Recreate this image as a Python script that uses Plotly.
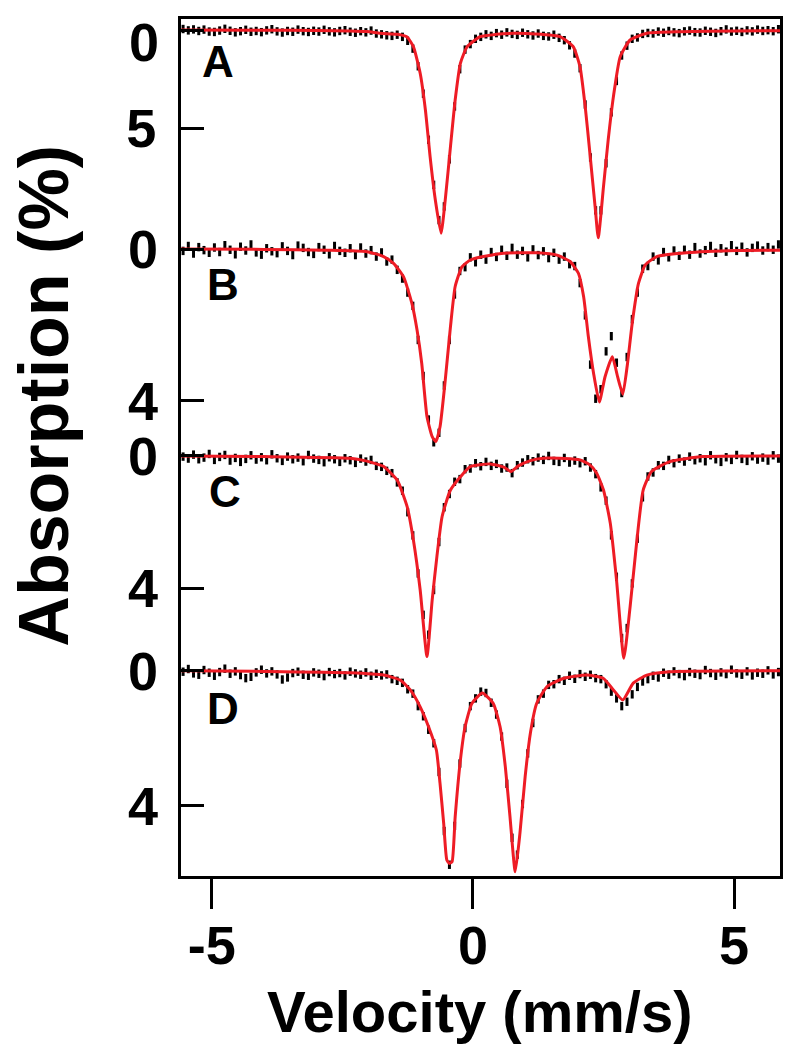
import plotly.graph_objects as go

# Channel velocities (mm/s)
velocity = [-5.55, -5.45, -5.35, -5.25, -5.15, -5.05, -4.95, -4.85, -4.75, -4.65,
            -4.55, -4.45, -4.35, -4.25, -4.15, -4.05, -3.95, -3.85, -3.75, -3.65,
            -3.55, -3.45, -3.35, -3.25, -3.15, -3.05, -2.95, -2.85, -2.75, -2.65,
            -2.55, -2.45, -2.35, -2.25, -2.15, -2.05, -1.95, -1.85, -1.75, -1.65,
            -1.55, -1.45, -1.35, -1.25, -1.15, -1.05, -0.95, -0.85, -0.75, -0.65,
            -0.55, -0.45, -0.35, -0.25, -0.15, -0.05, 0.05, 0.15, 0.25, 0.35,
            0.45, 0.55, 0.65, 0.75, 0.85, 0.95, 1.05, 1.15, 1.25, 1.35,
            1.45, 1.55, 1.65, 1.75, 1.85, 1.95, 2.05, 2.15, 2.25, 2.35,
            2.45, 2.55, 2.65, 2.75, 2.85, 2.95, 3.05, 3.15, 3.25, 3.35,
            3.45, 3.55, 3.65, 3.75, 3.85, 3.95, 4.05, 4.15, 4.25, 4.35,
            4.45, 4.55, 4.65, 4.75, 4.85, 4.95, 5.05, 5.15, 5.25, 5.35,
            5.45, 5.55, 5.65, 5.75, 5.85]

# Measured absorption (%) per spectrum
data_A = [-0.05, 0.02, -0.03, 0.05, -0.02, 0.08, 0.10, 0.03, -0.06, 0.04,
          0.12, 0.06, -0.01, 0.09, 0.05, 0.11, 0.02, -0.04, 0.07, 0.13,
          0.05, 0.09, -0.02, 0.06, 0.10, 0.04, 0.08, -0.01, 0.07, 0.12,
          0.05, 0.01, 0.09, 0.14, 0.06, 0.12, 0.03, 0.18, 0.22, 0.27,
          0.30, 0.24, 0.35, 0.55, 0.95, 1.85, 3.25, 5.6, 7.9, 9.7,
          9.0, 6.6, 3.9, 2.0, 1.0, 0.72, 0.45, 0.35, 0.22, 0.30,
          0.16, 0.24, 0.12, 0.20, 0.25, 0.14, 0.22, 0.28, 0.18, 0.30,
          0.33, 0.24, 0.40, 0.52, 0.78, 1.2, 1.95, 3.8, 6.5, 9.2,
          9.2, 6.8, 4.2, 2.6, 1.3, 0.80, 0.45, 0.38, 0.20, 0.15,
          0.18, 0.08, 0.14, 0.05, 0.12, 0.16, 0.07, 0.03, 0.11, 0.13,
          0.04, 0.09, 0.15, 0.06, -0.03, 0.08, 0.04, 0.10, 0.02, 0.07,
          -0.02, 0.05, 0.01, 0.06, -0.04]

data_B = [0.05, -0.08, 0.12, -0.05, 0.03, 0.10, -0.04, 0.08, -0.10, 0.02,
          0.14, -0.06, 0.04, -0.12, 0.09, 0.15, -0.02, 0.06, 0.11, -0.07,
          0.05, 0.16, -0.09, -0.03, 0.08, 0.13, -0.05, 0.02, 0.14, -0.08,
          0.05, 0.10, -0.02, 0.16, -0.04, 0.12, 0.03, 0.20, 0.09, 0.33,
          0.28, 0.55, 0.78, 1.15, 1.50, 2.40, 3.35, 4.50, 5.10, 4.85,
          3.60, 2.40, 1.20, 0.58, 0.48, 0.22, 0.35, 0.15, 0.28, 0.08,
          0.21, 0.02, 0.18, -0.03, 0.15, 0.05, 0.22, 0.01, 0.16, 0.06,
          0.24, 0.10, 0.28, 0.20, 0.40, 0.45, 0.90, 1.75, 3.05, 3.95,
          3.70, 2.70, 2.30, 3.00, 3.80, 2.85, 1.85, 1.15, 0.52, 0.45,
          0.20, 0.30, 0.08, 0.22, 0.04, 0.18, 0.02, 0.15, -0.05, 0.12,
          0.03, -0.08, 0.10, -0.02, 0.07, -0.10, 0.05, -0.06, 0.09, -0.03,
          -0.09, 0.04, -0.05, 0.02, -0.12]

data_C = [0.02, 0.08, -0.04, 0.10, 0.05, -0.06, 0.12, 0.03, -0.03, 0.14,
          0.06, 0.18, 0.09, -0.02, 0.11, 0.04, 0.13, -0.05, 0.07, 0.15,
          0.02, 0.10, 0.05, 0.16, -0.03, 0.08, 0.12, 0.19, 0.04, 0.10,
          0.18, 0.07, 0.13, 0.21, 0.08, 0.17, 0.12, 0.30, 0.33, 0.45,
          0.52, 0.80, 1.05, 1.70, 2.40, 3.55, 4.80, 5.40, 4.05, 2.60,
          1.55, 1.15, 0.78, 0.70, 0.40, 0.38, 0.22, 0.31, 0.18, 0.30,
          0.24, 0.38, 0.35, 0.52, 0.28, 0.20, 0.10, 0.16, 0.05, 0.12,
          0.00, 0.15, 0.18, 0.06, 0.20, 0.14, 0.22, 0.16, 0.35, 0.55,
          0.95, 1.35, 2.40, 3.65, 5.50, 5.20, 3.85, 2.50, 1.25, 0.62,
          0.50, 0.28, 0.30, 0.12, 0.22, 0.08, 0.17, 0.02, 0.13, 0.07,
          0.16, -0.02, 0.10, 0.18, 0.04, 0.12, -0.03, 0.09, 0.15, 0.01,
          0.11, 0.05, 0.14, -0.02, 0.08]

data_D = [0.03, -0.05, 0.08, 0.12, -0.02, 0.06, 0.15, 0.04, -0.06, 0.09,
          0.02, 0.13, 0.22, 0.18, 0.05, -0.03, 0.08, 0.02, 0.11, 0.26,
          0.20, 0.07, 0.03, 0.12, 0.15, 0.05, 0.09, 0.16, 0.04, 0.10,
          0.07, 0.14, 0.03, 0.08, 0.12, 0.05, 0.15, 0.09, 0.14, 0.11,
          0.25, 0.30, 0.36, 0.55, 0.68, 1.05, 1.35, 1.75, 2.15, 3.00,
          4.75, 5.75, 4.60, 2.75, 1.70, 1.05, 0.82, 0.62, 0.66, 0.95,
          1.30, 1.95, 3.35, 4.95, 5.45, 3.95, 2.45, 1.55, 0.85, 0.68,
          0.42, 0.40, 0.25, 0.30, 0.15, 0.24, 0.10, 0.18, 0.12, 0.22,
          0.25, 0.40, 0.62, 0.82, 1.05, 0.92, 0.70, 0.48, 0.32, 0.25,
          0.15, 0.20, 0.06, 0.12, 0.02, 0.10, 0.16, 0.04, 0.09, 0.13,
          -0.02, 0.07, 0.15, 0.05, 0.10, -0.03, 0.08, 0.12, 0.02, 0.14,
          0.06, 0.09, -0.01, 0.11, 0.04]

# Fitted curves (velocity, absorption %)
fit_A_v = [-5.59, -4.0, -3.0, -2.35, -2.03, -1.77, -1.45, -1.26, -1.14, -1.01,
           -0.91, -0.82, -0.72, -0.61, -0.53, -0.43, -0.34, -0.24, -0.11, 0.14,
           0.45, 0.78, 1.2, 1.67, 1.92, 2.05, 2.15, 2.24, 2.34, 2.40,
           2.50, 2.59, 2.69, 2.82, 3.01, 3.33, 3.97, 5.0, 5.88]
fit_A = [0.0, 0.01, 0.03, 0.05, 0.08, 0.17, 0.22, 0.36, 0.85, 2.21,
         4.08, 6.46, 8.67, 10.37, 8.67, 5.95, 3.57, 1.70, 0.85, 0.34,
         0.22, 0.17, 0.20, 0.34, 0.85, 1.87, 3.91, 6.29, 9.02, 10.60,
         7.99, 5.61, 3.40, 1.36, 0.51, 0.17, 0.09, 0.05, 0.04]

fit_B_v = [-5.59, -4.0, -2.8, -2.03, -1.71, -1.52, -1.33, -1.17, -1.07, -0.98,
           -0.88, -0.78, -0.71, -0.63, -0.53, -0.43, -0.34, -0.21, -0.05, 0.20,
           0.59, 0.84, 1.22, 1.61, 1.86, 2.02, 2.12, 2.21, 2.31, 2.42,
           2.53, 2.67, 2.77, 2.87, 2.96, 3.05, 3.17, 3.30, 3.52, 4.09,
           5.05, 5.88]
fit_B = [0.0, 0.01, 0.03, 0.07, 0.20, 0.38, 0.73, 1.43, 2.14, 3.02,
         4.42, 4.95, 5.08, 4.69, 3.46, 2.05, 0.99, 0.47, 0.29, 0.20,
         0.11, 0.10, 0.10, 0.16, 0.33, 0.64, 1.26, 2.31, 3.28, 4.04,
         3.37, 2.84, 3.37, 3.83, 3.02, 1.96, 0.91, 0.42, 0.20, 0.10,
         0.04, 0.03]

fit_C_v = [-5.59, -4.0, -2.35, -2.05, -1.85, -1.71, -1.45, -1.26, -1.14, -1.01,
           -0.88, -0.78, -0.69, -0.59, -0.43, -0.18, -0.05, 0.33, 0.59, 0.73,
           0.87, 1.10, 1.35, 1.75, 2.05, 2.24, 2.37, 2.50, 2.63, 2.75,
           2.89, 3.01, 3.14, 3.26, 3.42, 3.77, 4.41, 5.88]
fit_C = [0.0, 0.02, 0.07, 0.15, 0.24, 0.32, 0.73, 1.53, 2.54, 4.05,
         6.06, 4.35, 3.04, 1.83, 1.03, 0.52, 0.32, 0.24, 0.34, 0.47,
         0.30, 0.14, 0.07, 0.08, 0.12, 0.27, 0.52, 1.03, 2.03, 3.75,
         6.11, 4.55, 2.54, 1.03, 0.47, 0.17, 0.02, 0.0]

fit_D_v = [-5.59, -4.0, -2.35, -1.71, -1.39, -1.20, -1.01, -0.85, -0.70, -0.63,
           -0.56, -0.50, -0.45, -0.40, -0.34, -0.24, -0.15, -0.02, 0.18, 0.39,
           0.52, 0.62, 0.71, 0.81, 0.90, 1.00, 1.10, 1.22, 1.42, 1.73,
           2.18, 2.50, 2.69, 2.87, 3.07, 3.33, 3.77, 5.88]
fit_D = [0.0, 0.02, 0.06, 0.13, 0.28, 0.57, 1.07, 1.66, 2.35, 3.34,
         4.52, 5.61, 5.71, 5.66, 4.33, 2.65, 1.66, 0.97, 0.66, 0.97,
         1.66, 2.84, 4.33, 5.96, 4.82, 3.14, 1.85, 0.97, 0.47, 0.23,
         0.13, 0.23, 0.57, 0.87, 0.37, 0.13, 0.03, 0.0]

panel_labels = ["A", "B", "C", "D"]
panel_ticks = [[0, 5], [0, 4], [0, 4], [0, 4]]
panel_ranges = [[43.16, -0.561], [16.544, -6.069], [12.69, -13.20], [6.083, -19.31]]
xticks = [-5, 0, 5]

FONT = "Liberation Sans, Arial, Helvetica, sans-serif"
RED = "#ee1c25"

datasets = [(data_A, fit_A_v, fit_A), (data_B, fit_B_v, fit_B),
            (data_C, fit_C_v, fit_C), (data_D, fit_D_v, fit_D)]

fig = go.Figure()
for i, (dat, fv, fy) in enumerate(datasets):
    yname = "y" if i == 0 else f"y{i+1}"
    fig.add_trace(go.Scatter(
        x=velocity, y=dat, mode="markers", yaxis=yname,
        marker=dict(symbol="line-ns", size=6, color="black",
                    line=dict(width=3, color="black")),
        showlegend=False, hoverinfo="skip"))
    fig.add_trace(go.Scatter(
        x=fv, y=fy, mode="lines", yaxis=yname,
        line=dict(color=RED, width=3, shape="spline", smoothing=0.5),
        showlegend=False, hoverinfo="skip"))

TICKFONT = dict(family=FONT, size=54, color="black", weight="bold")
common_y = dict(showgrid=False, zeroline=False, ticks="inside", ticklen=23,
                tickwidth=2.5, tickcolor="black", automargin=False,
                ticklabeloverflow="allow", tickfont=TICKFONT)

layout = dict(
    width=792, height=1050,
    margin=dict(l=181, r=12, t=19, b=174, autoexpand=False),
    paper_bgcolor="white", plot_bgcolor="white",
    xaxis=dict(range=[-5.59, 5.88], tickvals=xticks, ticktext=[str(t) for t in xticks],
               showgrid=False, zeroline=False, ticks="outside", ticklen=30,
               tickwidth=3, tickcolor="black", showline=True, linewidth=3,
               linecolor="black", mirror=True, automargin=False,
               ticklabelstandoff=-10, ticklabeloverflow="allow",
               tickfont=TICKFONT),
)
for i in range(4):
    key = "yaxis" if i == 0 else f"yaxis{i+1}"
    labels = [str(t) for t in panel_ticks[i]]
    if i == 0:
        labels[0] = ""   # the top "0" is placed slightly lower, as in the original
    ax = dict(common_y, range=panel_ranges[i], tickvals=panel_ticks[i], ticktext=labels)
    if i == 0:
        ax.update(showline=True, linewidth=3, linecolor="black", mirror=True,
                  ticklabelstandoff=11)
    else:
        ax.update(overlaying="y", anchor="x", side="left", showline=False,
                  ticklabelstandoff=22)
    layout[key] = ax

fig.update_layout(**layout)

# top "0" label of panel A
fig.add_annotation(text=str(panel_ticks[0][0]), x=-0.034, y=panel_ticks[0][0],
                   xref="paper", yref="y", yshift=-12, showarrow=False,
                   xanchor="right", yanchor="middle", font=TICKFONT)

label_pos = [(0.062, 0.950), (0.070, 0.690), (0.073, 0.449), (0.070, 0.196)]
for lab, (px, py) in zip(panel_labels, label_pos):
    fig.add_annotation(text=lab, x=px, y=py, xref="paper", yref="paper",
                       showarrow=False, xanchor="center", yanchor="middle",
                       font=dict(family=FONT, size=44, color="black", weight="bold"))

fig.add_annotation(text="Velocity (mm/s)", x=0.499, y=-0.158, xref="paper", yref="paper",
                   showarrow=False, xanchor="center", yanchor="middle",
                   font=dict(family=FONT, size=58, color="black", weight="bold"))
fig.add_annotation(text="Absorption (%)", x=-0.228, y=0.561, xref="paper", yref="paper",
                   showarrow=False, xanchor="center", yanchor="middle", textangle=-90,
                   font=dict(family=FONT, size=70, color="black", weight="bold"))

fig.write_html("out.html", config={"displayModeBar": False},
               post_script="document.body.style.margin='0px';")
